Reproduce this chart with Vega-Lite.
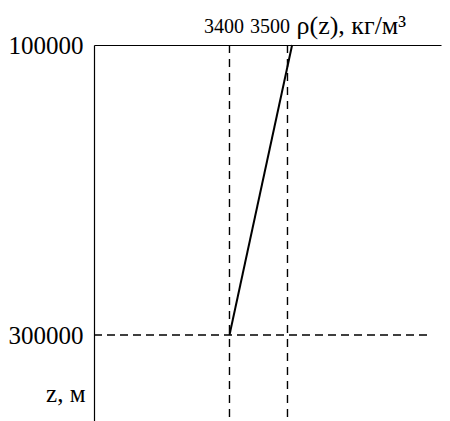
{
  "$schema": "https://vega.github.io/schema/vega-lite/v6.json",
  "width": 347,
  "height": 376,
  "autosize": "none",
  "padding": {"left": 94, "top": 45, "right": 9, "bottom": 0},
  "background": "white",
  "config": {"view": {"stroke": null}, "font": "Liberation Serif"},
  "datasets": {
    "profile": [{"rho": 3400, "z": 300000}, {"rho": 3508, "z": 100000}],
    "vlines": [{"rho": 3400}, {"rho": 3500}],
    "hline": [{"z": 300000, "rho_start": 3166.4, "rho_end": 3747}]
  },
  "layer": [
    {
      "data": {"name": "vlines"},
      "mark": {"type": "rule", "strokeDash": [8, 6], "color": "black", "strokeWidth": 1.4},
      "encoding": {
        "x": {
          "field": "rho",
          "type": "quantitative",
          "scale": {"domain": [3166.4, 3764.7], "nice": false, "zero": false},
          "axis": {
            "orient": "top",
            "values": [3400, 3500],
            "ticks": false,
            "grid": false,
            "domain": true,
            "domainColor": "black",
            "domainWidth": 1.2,
            "labelFlush": false,
            "labelOverlap": false,
            "labelFontSize": 20,
            "labelColor": "black",
            "labelPadding": 9,
            "format": "d",
            "labelOffset": {"condition": {"test": "datum.value == 3500", "value": -18}, "value": -6},
            "title": "ρ(z),\u00a0кг/м³",
            "titleFontSize": 26,
            "titleFontWeight": "normal",
            "titleColor": "black",
            "titleAlign": "left",
            "titleBaseline": "alphabetic",
            "titleAnchor": "start",
            "titleX": 202,
            "titleY": -12
          }
        }
      }
    },
    {
      "data": {"name": "hline"},
      "mark": {"type": "rule", "strokeDash": [8, 5], "color": "black", "strokeWidth": 1.4},
      "encoding": {
        "x": {"field": "rho_start", "type": "quantitative"},
        "x2": {"field": "rho_end"},
        "y": {"field": "z", "type": "quantitative"}
      }
    },
    {
      "data": {"name": "profile"},
      "mark": {"type": "line", "color": "black", "strokeWidth": 2},
      "encoding": {
        "x": {"field": "rho", "type": "quantitative"},
        "y": {
          "field": "z",
          "type": "quantitative",
          "scale": {"domain": [100000, 359310], "reverse": true, "nice": false, "zero": false},
          "axis": {
            "values": [100000, 300000],
            "ticks": false,
            "grid": false,
            "domain": true,
            "domainColor": "black",
            "domainWidth": 1.2,
            "labelFlush": false,
            "labelOverlap": false,
            "labelFontSize": 25,
            "labelColor": "black",
            "labelPadding": 11,
            "format": "d",
            "title": "z,\u00a0м",
            "titleAngle": 0,
            "titleFontSize": 25,
            "titleFontWeight": "normal",
            "titleColor": "black",
            "titleAlign": "right",
            "titleBaseline": "alphabetic",
            "titleX": -9,
            "titleY": 356
          }
        }
      }
    }
  ]
}
